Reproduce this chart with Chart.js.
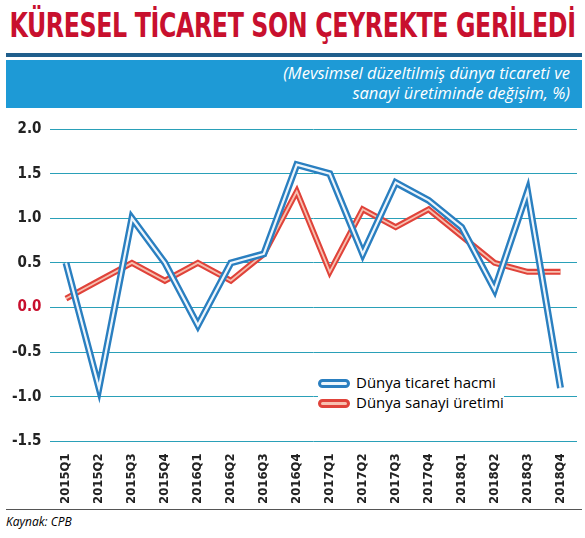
<!DOCTYPE html>
<html><head><meta charset="utf-8">
<script src="https://cdn.jsdelivr.net/npm/chart.js@4"></script>
<style>
body{margin:0;width:585px;height:538px;background:#fff;font-family:"DejaVu Sans Condensed","DejaVu Sans",sans-serif;position:relative;overflow:hidden}
#title{position:absolute;top:6px;left:-100px;width:785px;white-space:nowrap;text-align:center;color:#c8102e;font-weight:bold;font-size:33px;letter-spacing:-0.5px;transform:scaleX(0.8);transform-origin:center}
#bar{position:absolute;top:53px;left:6px;width:576px;height:4px;background:#1f5e8c}
#band{position:absolute;top:60px;left:6px;width:576px;height:48px;background:#1e9ad6;color:#fff;font-style:italic;font-size:16.5px;text-align:right;line-height:20px;box-sizing:border-box;padding:3px 12px 0 0;font-family:"Open Sans",sans-serif}
#wrap{position:absolute;top:112px;left:0;width:585px;height:396px}
#foot{position:absolute;top:509px;left:6px;width:576px;border-top:1.5px solid #555;font-style:italic;font-size:12px;padding-top:3px;font-family:"Open Sans",sans-serif}
#legend{position:absolute;left:318px;top:372px;font-size:15px;font-family:"Open Sans",sans-serif;background:#fff;line-height:20px}
.sw{display:inline-block;width:32px;height:9px;border-radius:5px;vertical-align:middle;margin-right:6px;box-sizing:border-box}
</style></head><body>
<div id="title">KÜRESEL TİCARET SON ÇEYREKTE GERİLEDİ</div>
<div id="bar"></div>
<div id="band">(Mevsimsel düzeltilmiş dünya ticareti ve<br>sanayi üretiminde değişim, %)</div>
<div id="wrap"><canvas id="c"></canvas></div>
<div id="legend">
<div><span class="sw" style="border:3px solid #2a7fc0;background:#eef6fc"></span>Dünya ticaret hacmi</div>
<div><span class="sw" style="border:3px solid #e0433a;background:#f7c0b0"></span>Dünya sanayi üretimi</div>
</div>
<div id="foot">Kaynak: CPB</div>
<script>
const categories=["2015Q1","2015Q2","2015Q3","2015Q4","2016Q1","2016Q2","2016Q3","2016Q4","2017Q1","2017Q2","2017Q3","2017Q4","2018Q1","2018Q2","2018Q3","2018Q4"];
const tradeVolume=[0.5,-0.9,1.0,0.5,-0.2,0.5,0.6,1.6,1.5,0.6,1.4,1.2,0.9,0.2,1.3,-0.9];
const industrialOutput=[0.1,0.3,0.5,0.3,0.5,0.3,0.6,1.3,0.4,1.1,0.9,1.1,0.8,0.5,0.4,0.4];
const yTicks=[2.0,1.5,1.0,0.5,0.0,-0.5,-1.0,-1.5];
const mk=(d,c,w)=>({data:d,borderColor:c,borderWidth:w,pointRadius:0,tension:0,fill:false,borderJoinStyle:'miter'});
new Chart(document.getElementById('c'),{type:'line',
data:{labels:categories,datasets:[mk(tradeVolume,'#eef6fc',2.2),mk(tradeVolume,'#2a7fc0',7),mk(industrialOutput,'#f7c0b0',1.8),mk(industrialOutput,'#e0433a',6)]},
options:{responsive:true,maintainAspectRatio:false,animation:false,
layout:{padding:{left:4,right:8,top:8}},
plugins:{legend:{display:false},tooltip:{enabled:false}},
scales:{
x:{offset:true,grid:{display:false},border:{display:false},ticks:{maxRotation:90,minRotation:90,color:'#222',padding:4,font:{family:'DejaVu Sans Condensed',size:13,weight:'bold'}}},
y:{min:-1.5,max:2.0,afterBuildTicks:a=>{a.ticks=yTicks.map(v=>({value:v}))},
border:{display:false},
grid:{color:'#2aa0b8',lineWidth:1,borderDash:[2,2],drawTicks:false},
ticks:{padding:8,color:c=>c.tick.value===0?'#c8102e':'#222',font:{family:'DejaVu Sans Condensed',size:15,weight:'bold'},callback:v=>v.toFixed(1)}}
}}});
</script></body></html>
